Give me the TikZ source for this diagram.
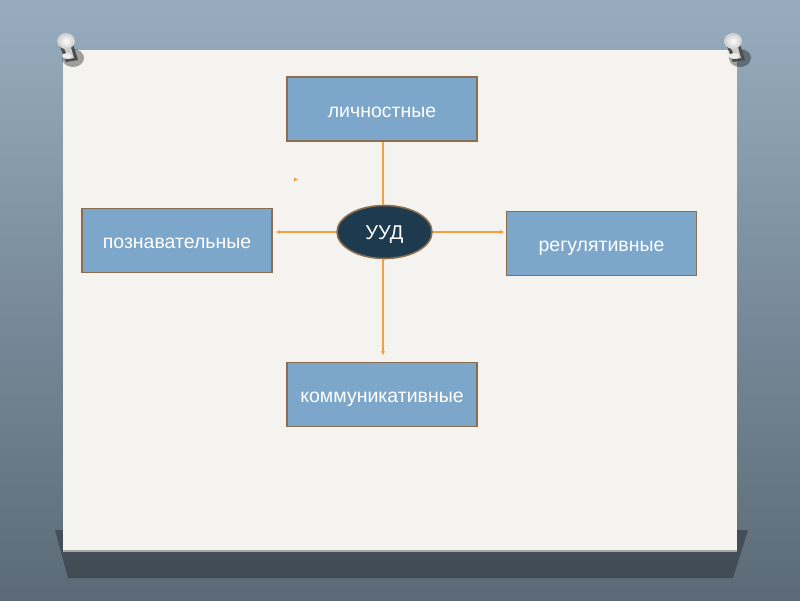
\documentclass[tikz,border=0pt]{standalone}
\usepackage{fontspec}
\setmainfont{Liberation Sans}
\usetikzlibrary{shapes.geometric,arrows.meta}
\definecolor{bgtop}{HTML}{97ADBF}
\definecolor{bgbot}{HTML}{5B6A76}
\definecolor{paper}{HTML}{F4F3EF}
\definecolor{boxfill}{HTML}{7CA7CB}
\definecolor{boxline}{HTML}{8A6E4E}
\definecolor{ovalfill}{HTML}{1E3A4E}
\definecolor{arrowc}{HTML}{F2A040}
\tikzset{
  catbox/.style={draw=boxline, line width=1.4pt, fill=boxfill, minimum width=190pt, minimum height=64pt, inner sep=0pt, text height=16pt, text depth=0pt, text=white, font=\fontsize{19.5}{23}\selectfont},
  hub/.style={ellipse, draw=boxline, line width=1.6pt, fill=ovalfill, minimum width=95pt, minimum height=53pt, inner sep=0pt, text height=14.5pt, text depth=0pt, text=white, font=\fontsize{20}{24}\selectfont},
  conn/.style={draw=arrowc, line width=1.1pt},
  arr/.style={conn, -{Stealth[length=4pt,width=4pt]}},
}
\begin{document}
\begin{tikzpicture}[x=1pt,y=-1pt]
\useasboundingbox (0,0) rectangle (800,600);
% background
\shade[top color=bgtop, bottom color=bgbot] (0,0) rectangle (800,600);
% shadow of paper
\fill[black, opacity=0.3] (55,530) -- (748,530) -- (733,578) -- (68,578) -- cycle;
% paper
\fill[gray!70] (63,51) rectangle (737,552);
\fill[paper] (63,50) rectangle (737,550);
% pins
\foreach \px in {66,733}{
  \fill[black, opacity=0.35] (\px+7,58) ellipse (11pt and 9pt);
  \fill[gray!60!black] (\px-7,44) -- (\px+7,44) -- (\px+12,60) -- (\px,62) -- cycle;
  \fill[gray!40] (\px-4,44) -- (\px+4,44) -- (\px+8,58) -- (\px+3,59) -- cycle;
  \fill[gray!15] (\px+1,56) ellipse (5pt and 3pt);
  \shade[inner color=white, outer color=gray!40] (\px,41) ellipse (9pt and 8pt);
}
% nodes
\node[catbox] (lich) at (382,109) {личностные};
\node[catbox] (pozn) at (177,240.5) {познавательные};
\node[catbox] (reg) at (601.5,243.5) {регулятивные};
\node[catbox] (komm) at (382,394.5) {коммуникативные};
\node[hub] (uud) at (384.5,232) {УУД};
% connectors
\draw[conn] (lich.south -| 383,0) -- (uud.north -| 383,0);
\coordinate (le) at (276,232);
\coordinate (re) at (504,232);
\coordinate (de) at (383,355);
\draw[arr] (uud.west) -- (le);
\draw[arr] (uud.east) -- (re);
\draw[arr] (uud.south -| de) -- (de);
% stray mark
\fill[arrowc] (294,177.5) -- (298,179.5) -- (294,181.5) -- cycle;
\end{tikzpicture}
\end{document}
